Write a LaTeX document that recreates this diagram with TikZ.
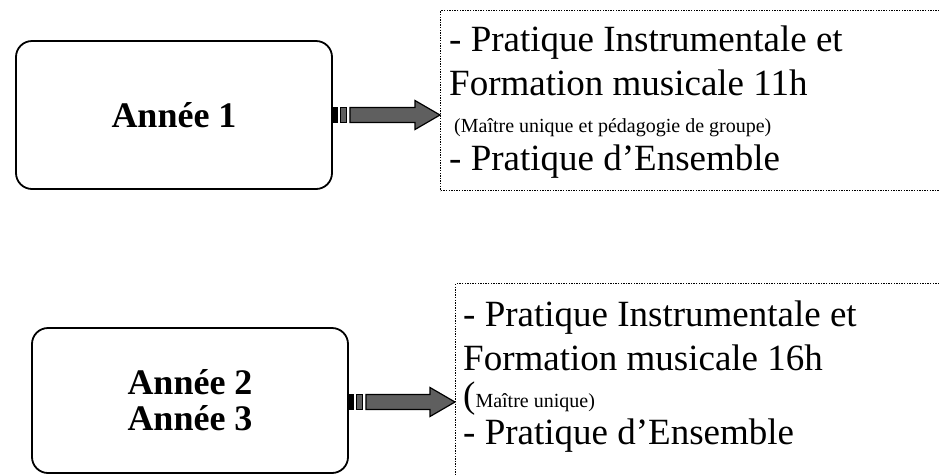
\documentclass[tikz,border=0pt]{standalone}
\usepackage{fontspec}
\setmainfont{Liberation Serif}
\usetikzlibrary{calc}
\definecolor{arrowgray}{HTML}{5F5F5F}
\tikzset{
  roundbox/.style={draw, line width=1.8pt, rounded corners=16pt, align=center,
    font=\fontsize{36}{36}\selectfont\bfseries},
  dotbox/.style={draw, line width=1.4pt, dash pattern=on 1.4pt off 1.2pt,
    anchor=north west, inner sep=0pt},
  bigline/.style={anchor=base west, inner sep=0pt, font=\fontsize{37}{40}\selectfont},
  smallline/.style={anchor=base west, inner sep=0pt, font=\fontsize{20}{22}\selectfont},
  arrowpart/.style={fill=arrowgray, draw=black, line width=1.2pt, line join=miter},
}
\newcommand\myblockarrow[2]{%
  \fill[black] ($(#1)+(0,-8)$) rectangle ($(#1)+(5,8)$);
  \draw[arrowpart] ($(#1)+(7.5,-7.5)$) rectangle ($(#1)+(13.5,7.5)$);
  \draw[arrowpart] ($(#1)+(17,-7.5)$) -- ($(#2)+(-25,-7.5)$) -- ($(#2)+(-25,-14.5)$)
    -- (#2) -- ($(#2)+(-25,14.5)$) -- ($(#2)+(-25,7.5)$) -- ($(#1)+(17,7.5)$) -- cycle;
}
\begin{document}
\begin{tikzpicture}[x=1pt, y=-1pt]
\useasboundingbox (0,0) rectangle (939,475);
\clip (0,0) rectangle (939,475);

% left rounded boxes
\node[roundbox, minimum width=316pt, minimum height=148pt] (b1) at (174,115) {Année 1};
\node[roundbox, minimum width=316pt, minimum height=145pt] (b2) at (190,400.5) {Année 2\\Année 3};

% dotted text frames (running past the right / bottom edge)
\node[dotbox, minimum width=600pt, minimum height=180pt] (t1) at (440,10) {};
\node[dotbox, minimum width=600pt, minimum height=300pt] (t2) at (455,283) {};

% texts, frame 1
\node[bigline] (t1a) at (449,51) {- Pratique Instrumentale et};
\node[bigline] (t1b) at (449,95) {Formation musicale 11h};
\node[smallline] (t1c) at (454,132) {(Maître unique et pédagogie de groupe)};
\node[bigline] (t1d) at (449,170) {- Pratique d’Ensemble};

% texts, frame 2
\node[bigline] (t2a) at (463,326) {- Pratique Instrumentale et};
\node[bigline] (t2b) at (463,370) {Formation musicale 16h};
\node[bigline] (t2c) at (463,407) {(\fontsize{20}{22}\selectfont Maître unique)};
\node[bigline] (t2d) at (463,444) {- Pratique d’Ensemble};

% striped block arrows
\coordinate (a1s) at (b1.east);
\coordinate (a1e) at (b1.east -| t1.west);
\myblockarrow{a1s}{a1e}
\coordinate (a2s) at ($(b2.east)+(0,1.5)$);
\coordinate (a2e) at (a2s -| t2.west);
\myblockarrow{a2s}{a2e}
\end{tikzpicture}
\end{document}
